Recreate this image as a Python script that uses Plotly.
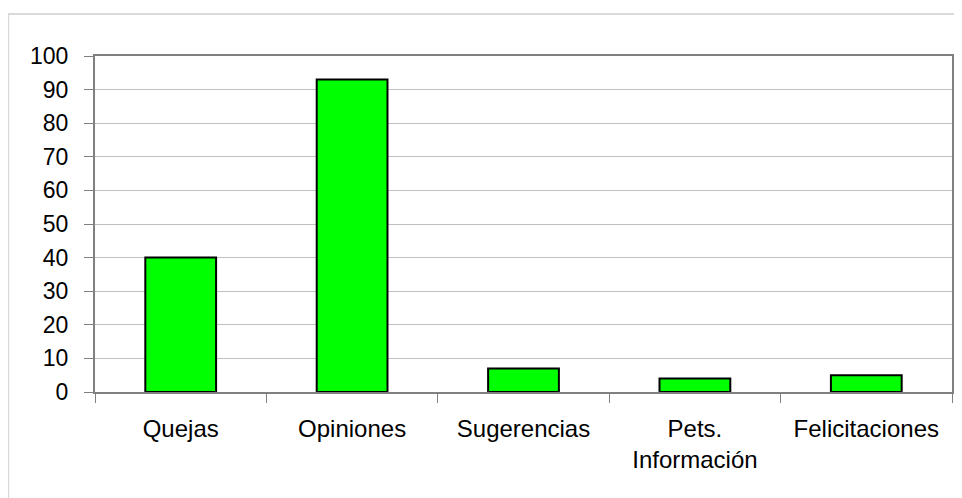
import plotly.graph_objects as go

categories = ["Quejas", "Opiniones", "Sugerencias", "Pets.<br>Información", "Felicitaciones"]
values = [40, 93, 7, 4, 5]
y_ticks = [0, 10, 20, 30, 40, 50, 60, 70, 80, 90, 100]

FONT = "Liberation Sans, Arial, sans-serif"

fig = go.Figure(
    go.Bar(
        x=categories,
        y=values,
        marker=dict(color="#00ff00", line=dict(color="#000000", width=2)),
        hoverinfo="x+y",
    )
)

fig.update_layout(
    width=954,
    height=490,
    margin=dict(l=87, r=8, t=48, b=106),
    paper_bgcolor="white",
    plot_bgcolor="white",
    bargap=0.587,
    showlegend=False,
    font=dict(family=FONT, size=23, color="#000000"),
    shapes=[
        dict(
            type="rect", xref="paper", yref="paper",
            x0=-0.1013, x1=1.2, y0=-0.6, y1=1.125,
            line=dict(color="#d9d9d9", width=2), fillcolor="rgba(0,0,0,0)",
            layer="below",
        )
    ],
)

fig.update_yaxes(
    range=[0, 100],
    tickvals=y_ticks,
    ticktext=[str(v) for v in y_ticks],
    showgrid=True,
    gridcolor="#c0c0c0",
    gridwidth=1,
    zeroline=False,
    showline=True,
    linecolor="#808080",
    linewidth=2,
    mirror=True,
    ticks="outside",
    ticklen=9,
    tickcolor="#808080",
    tickwidth=1,
    ticklabelstandoff=11,
    tickfont=dict(family=FONT, size=23, color="#000000"),
)

fig.update_xaxes(
    showgrid=False,
    showline=True,
    linecolor="#808080",
    linewidth=2,
    mirror=True,
    ticks="outside",
    tickson="boundaries",
    ticklen=9,
    tickcolor="#808080",
    tickwidth=1,
    ticklabelstandoff=14,
    tickfont=dict(family=FONT, size=24, color="#000000"),
)

fig.write_html("out.html")
